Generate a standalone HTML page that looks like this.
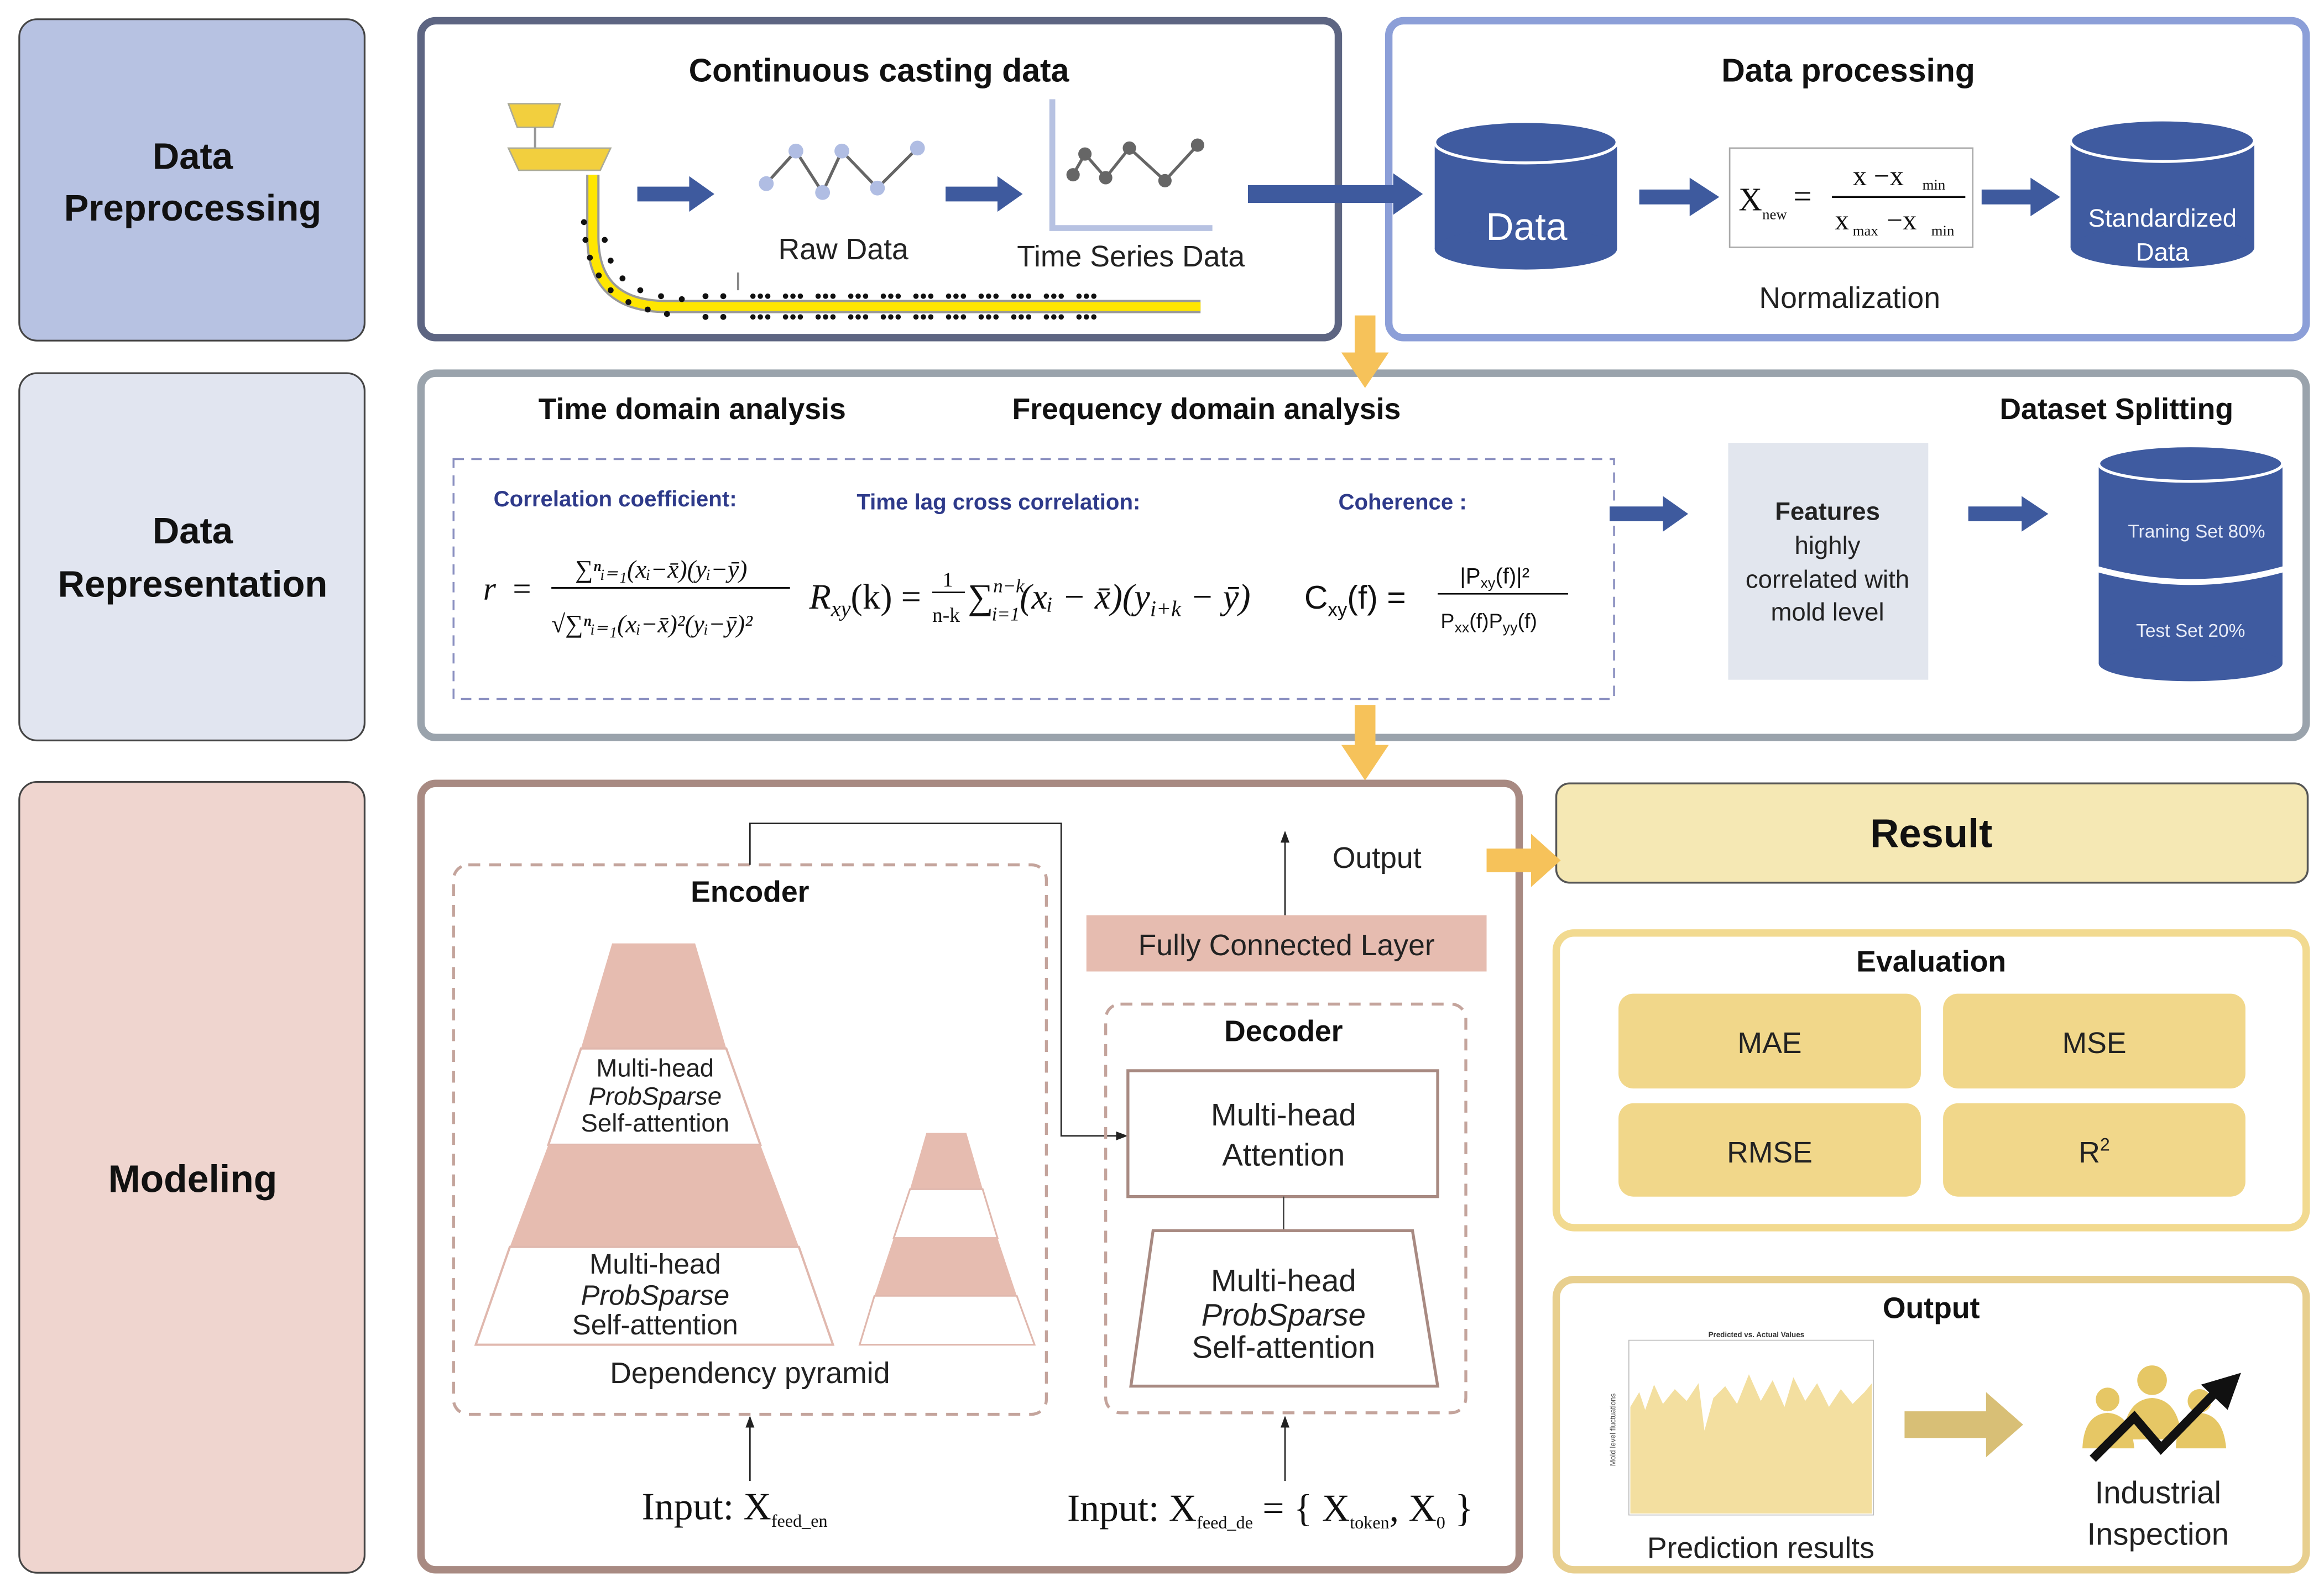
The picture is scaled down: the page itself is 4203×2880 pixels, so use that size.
<!DOCTYPE html>
<html><head><meta charset="utf-8"><style>
html,body{margin:0;padding:0;background:#fff;}
svg{display:block;}
text{font-family:"Liberation Sans",sans-serif;}
.b{font-weight:bold;}
.serif{font-family:"Liberation Serif",serif;}
</style></head><body>
<svg width="4203" height="2880" viewBox="0 0 1568 1075" preserveAspectRatio="none" xmlns="http://www.w3.org/2000/svg">
<defs>
<marker id="ah" markerWidth="8" markerHeight="8" refX="7" refY="4" orient="auto" markerUnits="userSpaceOnUse"><path d="M0,1 L8,4 L0,7 Z" fill="#222"/></marker>
</defs>
<rect width="1568" height="1075" fill="#fff"/>
<!-- left labels -->
<rect x="13" y="13" width="233" height="217" rx="12" fill="#b7c2e2" stroke="#444" stroke-width="1.2"/>
<text x="130" y="114" font-size="25" class="b" text-anchor="middle" fill="#111">Data</text>
<text x="130" y="149" font-size="25" class="b" text-anchor="middle" fill="#111">Preprocessing</text>
<rect x="13" y="252" width="233" height="248" rx="12" fill="#e1e5f0" stroke="#444" stroke-width="1.2"/>
<text x="130" y="367" font-size="25" class="b" text-anchor="middle" fill="#111">Data</text>
<text x="130" y="403" font-size="25" class="b" text-anchor="middle" fill="#111">Representation</text>
<rect x="13" y="528" width="233" height="534" rx="12" fill="#efd5cf" stroke="#444" stroke-width="1.2"/>
<text x="130" y="805" font-size="26" class="b" text-anchor="middle" fill="#111">Modeling</text>

<!-- Panel continuous casting -->
<rect x="284" y="14" width="619" height="214" rx="10" fill="#fff" stroke="#5d6582" stroke-width="5"/>
<text x="593" y="55" font-size="22" class="b" text-anchor="middle" fill="#111">Continuous casting data</text>
<polygon points="343,70 378,70 373,86 349,86" fill="#f2cf3e" stroke="#aa9"/>
<line x1="361" y1="86" x2="361" y2="100" stroke="#999" stroke-width="1.5"/>
<polygon points="343,100 412,100 405,115 350,115" fill="#f2cf3e" stroke="#aa9"/>
<path d="M400,118 L400,160 Q400,207 450,207 L810,207" fill="none" stroke="#999" stroke-width="9"/>
<path d="M400,118 L400,160 Q400,207 450,207 L810,207" fill="none" stroke="#ffe600" stroke-width="6"/>
<g fill="#111">
<circle cx="394" cy="150" r="2"/><circle cx="395" cy="162" r="2"/><circle cx="398" cy="174" r="2"/><circle cx="404" cy="186" r="2"/><circle cx="412" cy="196" r="2"/><circle cx="424" cy="204" r="2"/><circle cx="437" cy="209" r="2"/><circle cx="450" cy="212" r="2"/>
<circle cx="408" cy="162" r="2"/><circle cx="412" cy="176" r="2"/><circle cx="420" cy="188" r="2"/><circle cx="432" cy="196" r="2"/><circle cx="446" cy="200" r="2"/><circle cx="460" cy="202" r="2"/>
<circle cx="476" cy="214" r="2"/><circle cx="488" cy="214" r="2"/><circle cx="476" cy="200" r="2"/><circle cx="488" cy="200" r="2"/>
</g>
<g fill="#111">
<g id="r1"><circle cx="508" cy="200" r="1.8"/><circle cx="513" cy="200" r="1.8"/><circle cx="518" cy="200" r="1.8"/><circle cx="508" cy="214" r="1.8"/><circle cx="513" cy="214" r="1.8"/><circle cx="518" cy="214" r="1.8"/></g>
<use href="#r1" x="22"/><use href="#r1" x="44"/><use href="#r1" x="66"/><use href="#r1" x="88"/><use href="#r1" x="110"/><use href="#r1" x="132"/><use href="#r1" x="154"/><use href="#r1" x="176"/><use href="#r1" x="198"/><use href="#r1" x="220"/>
</g>
<line x1="498" y1="184" x2="498" y2="196" stroke="#888" stroke-width="1.5"/>
<polygon points="430,126 465,126 465,119 482,131 465,143 465,136 430,136" fill="#3e5a9e"/>
<polyline points="517,124 537,102 555,130 568,102 592,127 619,100" fill="none" stroke="#666" stroke-width="2"/>
<g fill="#b0bde3"><circle cx="517" cy="124" r="5"/><circle cx="537" cy="102" r="5"/><circle cx="555" cy="130" r="5"/><circle cx="568" cy="102" r="5"/><circle cx="592" cy="127" r="5"/><circle cx="619" cy="100" r="5"/></g>
<text x="569" y="175" font-size="20" text-anchor="middle" fill="#222">Raw Data</text>
<polygon points="638,126 673,126 673,119 690,131 673,143 673,136 638,136" fill="#3e5a9e"/>
<polyline points="710,67 710,154 818,154" fill="none" stroke="#b7c2e2" stroke-width="4"/>
<polyline points="724,118 732,104 746,120 762,100 786,122 808,98" fill="none" stroke="#666" stroke-width="2"/>
<g fill="#666"><circle cx="724" cy="118" r="4.5"/><circle cx="746" cy="120" r="4.5"/><circle cx="762" cy="100" r="4.5"/><circle cx="786" cy="122" r="4.5"/><circle cx="808" cy="98" r="4.5"/><circle cx="732" cy="104" r="4.5"/></g>
<text x="763" y="180" font-size="20" text-anchor="middle" fill="#222">Time Series Data</text>

<!-- Data processing -->
<rect x="937" y="14" width="619" height="214" rx="10" fill="#fff" stroke="#8c9fd8" stroke-width="5"/>
<polygon points="842,125 940,125 940,117 960,131 940,145 940,137 842,137" fill="#3e5a9e"/>
<text x="1247" y="55" font-size="22" class="b" text-anchor="middle" fill="#111">Data processing</text>
<g>
<rect x="968" y="96" width="123" height="72" fill="#3f5ba0"/>
<ellipse cx="1029.5" cy="168" rx="61.5" ry="14" fill="#3f5ba0"/>
<ellipse cx="1029.5" cy="96" rx="61.5" ry="14" fill="#3f5ba0" stroke="#fff" stroke-width="2"/>
<text x="1030" y="162" font-size="26" text-anchor="middle" fill="#fff">Data</text>
</g>
<polygon points="1106,128 1140,128 1140,120 1160,133 1140,146 1140,138 1106,138" fill="#3e5a9e"/>
<rect x="1167" y="100" width="164" height="67" fill="#fff" stroke="#aaa"/>
<text x="1173" y="142" font-size="22" class="serif" fill="#111">X</text>
<text x="1189" y="148" font-size="10" class="serif" fill="#111">new</text>
<text x="1210" y="140" font-size="22" class="serif" fill="#111">=</text>
<line x1="1236" y1="133" x2="1326" y2="133" stroke="#111" stroke-width="1.3"/>
<text x="1250" y="125" font-size="19" class="serif" fill="#111">x −x</text>
<text x="1297" y="128" font-size="10" class="serif" fill="#111">min</text>
<text x="1238" y="155" font-size="19" class="serif" fill="#111">x</text>
<text x="1250" y="159" font-size="10" class="serif" fill="#111">max</text>
<text x="1273" y="155" font-size="19" class="serif" fill="#111">−x</text>
<text x="1303" y="159" font-size="10" class="serif" fill="#111">min</text>
<text x="1248" y="208" font-size="20" text-anchor="middle" fill="#222">Normalization</text>
<polygon points="1337,128 1370,128 1370,120 1390,133 1370,146 1370,138 1337,138" fill="#3e5a9e"/>
<g>
<rect x="1397" y="95" width="124" height="72" fill="#3f5ba0"/>
<ellipse cx="1459" cy="167" rx="62" ry="14" fill="#3f5ba0"/>
<ellipse cx="1459" cy="95" rx="62" ry="14" fill="#3f5ba0" stroke="#fff" stroke-width="2"/>
<text x="1459" y="153" font-size="17" text-anchor="middle" fill="#fff">Standardized</text>
<text x="1459" y="176" font-size="17" text-anchor="middle" fill="#fff">Data</text>
</g>

<!-- Representation panel -->
<rect x="284" y="252" width="1272" height="246" rx="10" fill="#fff" stroke="#9aa3ac" stroke-width="5"/>
<polygon points="914,213 928,213 928,238 937,238 921,262 905,238 914,238" fill="#f6c25a"/>
<text x="467" y="283" font-size="20" class="b" text-anchor="middle" fill="#111">Time domain analysis</text>
<text x="814" y="283" font-size="20" class="b" text-anchor="middle" fill="#111">Frequency domain analysis</text>
<text x="1428" y="283" font-size="20" class="b" text-anchor="middle" fill="#111">Dataset Splitting</text>
<rect x="306" y="310" width="783" height="162" fill="none" stroke="#8a8fc0" stroke-width="1.3" stroke-dasharray="7,5"/>
<text x="333" y="342" font-size="15" class="b" fill="#2e3a8a">Correlation coefficient:</text>
<text x="578" y="344" font-size="15" class="b" fill="#2e3a8a">Time lag cross correlation:</text>
<text x="903" y="344" font-size="15" class="b" fill="#2e3a8a">Coherence :</text>
<text x="326" y="405" font-size="22" class="serif" font-style="italic" fill="#111">r</text>
<text x="346" y="405" font-size="22" class="serif" fill="#111">=</text>
<text x="388" y="390" font-size="17" class="serif" font-style="italic" fill="#111">∑ⁿᵢ₌₁(xᵢ−x̄)(yᵢ−ȳ)</text>
<line x1="372" y1="397" x2="533" y2="397" stroke="#111" stroke-width="1.2"/>
<text x="372" y="427" font-size="17" class="serif" font-style="italic" fill="#111">√∑ⁿᵢ₌₁(xᵢ−x̄)²(yᵢ−ȳ)²</text>
<text x="546" y="411" font-size="24" class="serif" font-style="italic" fill="#111">R<tspan font-size="15" dy="5">xy</tspan><tspan dy="-5" font-style="normal">(k) =</tspan></text>
<text x="636" y="396" font-size="14" class="serif" fill="#111">1</text>
<line x1="629" y1="400" x2="651" y2="400" stroke="#111"/>
<text x="629" y="420" font-size="14" class="serif" fill="#111">n-k</text>
<text x="653" y="411" font-size="24" class="serif" font-style="italic" fill="#111">∑<tspan font-size="13" dy="-11">n−k</tspan><tspan font-size="13" dx="-22" dy="19">i=1</tspan><tspan dy="-8">(xᵢ − x̄)(y</tspan><tspan font-size="15" dy="5">i+k</tspan><tspan dy="-5"> − ȳ)</tspan></text>
<text x="880" y="411" font-size="22" fill="#111">C<tspan font-size="13" dy="5">xy</tspan><tspan dy="-5">(f) =</tspan></text>
<text x="985" y="394" font-size="15" fill="#111">|P<tspan font-size="10" dy="3">xy</tspan><tspan dy="-3">(f)|²</tspan></text>
<line x1="970" y1="401" x2="1058" y2="401" stroke="#111"/>
<text x="972" y="424" font-size="14" fill="#111">P<tspan font-size="10" dy="3">xx</tspan><tspan dy="-3">(f)P</tspan><tspan font-size="10" dy="3">yy</tspan><tspan dy="-3">(f)</tspan></text>
<polygon points="1086,342 1122,342 1122,335 1139,347 1122,359 1122,352 1086,352" fill="#3e5a9e"/>
<rect x="1166" y="299" width="135" height="160" fill="#e2e6ee"/>
<text x="1233" y="351" font-size="17" class="b" text-anchor="middle" fill="#222">Features</text>
<text x="1233" y="374" font-size="17" text-anchor="middle" fill="#222">highly</text>
<text x="1233" y="397" font-size="17" text-anchor="middle" fill="#222">correlated with</text>
<text x="1233" y="419" font-size="17" text-anchor="middle" fill="#222">mold level</text>
<polygon points="1328,342 1364,342 1364,335 1382,347 1364,359 1364,352 1328,352" fill="#3e5a9e"/>
<g>
<rect x="1416" y="313" width="124" height="135" fill="#3f5ba0"/>
<ellipse cx="1478" cy="448" rx="62" ry="12" fill="#3f5ba0"/>
<path d="M1414,384 Q1478,402 1542,384" fill="none" stroke="#fff" stroke-width="4"/>
<ellipse cx="1478" cy="313" rx="62" ry="12" fill="#3f5ba0" stroke="#fff" stroke-width="2"/>
<text x="1482" y="363" font-size="12.5" text-anchor="middle" fill="#e8ecf8">Traning Set 80%</text>
<text x="1478" y="430" font-size="12.5" text-anchor="middle" fill="#e8ecf8">Test Set 20%</text>
</g>

<!-- Modeling panel -->
<rect x="284" y="529" width="741" height="531" rx="10" fill="#fff" stroke="#a88a82" stroke-width="5"/>
<polygon points="914,476 928,476 928,503 937,503 921,527 905,503 914,503" fill="#f6c25a"/>
<rect x="306" y="584" width="400" height="371" rx="10" fill="none" stroke="#c4a49c" stroke-width="2" stroke-dasharray="8,6"/>
<text x="506" y="609" font-size="20" class="b" text-anchor="middle" fill="#111">Encoder</text>
<polyline points="506,584 506,556 716,556 716,767 760,767" fill="none" stroke="#222" stroke-width="1" marker-end="url(#ah)"/>
<polygon points="413,637 469,637 490,708 392,708" fill="#e6bcb0"/>
<polygon points="392,708 490,708 513,773 370,773" fill="#fff" stroke="#e0b8ae" stroke-width="1.5"/>
<polygon points="370,773 513,773 539,842 344,842" fill="#e6bcb0"/>
<polygon points="344,842 539,842 562,908 321,908" fill="#fff" stroke="#e0b8ae" stroke-width="1.5"/>
<text x="442" y="727" font-size="17" text-anchor="middle" fill="#222">Multi-head</text>
<text x="442" y="746" font-size="17" font-style="italic" text-anchor="middle" fill="#222">ProbSparse</text>
<text x="442" y="764" font-size="17" text-anchor="middle" fill="#222">Self-attention</text>
<text x="442" y="860" font-size="19" text-anchor="middle" fill="#222">Multi-head</text>
<text x="442" y="881" font-size="19" font-style="italic" text-anchor="middle" fill="#222">ProbSparse</text>
<text x="442" y="901" font-size="19" text-anchor="middle" fill="#222">Self-attention</text>
<polygon points="625,765 652,765 663,803 614,803" fill="#e6bcb0"/>
<polygon points="614,803 663,803 673,836 603,836" fill="#fff" stroke="#e0b8ae" stroke-width="1.2"/>
<polygon points="603,836 673,836 686,875 590,875" fill="#e6bcb0"/>
<polygon points="590,875 686,875 698,908 580,908" fill="#fff" stroke="#e0b8ae" stroke-width="1.2"/>
<text x="506" y="934" font-size="20" text-anchor="middle" fill="#222">Dependency pyramid</text>
<line x1="506" y1="1000" x2="506" y2="957" stroke="#222" stroke-width="1" marker-end="url(#ah)"/>
<text x="433" y="1026" font-size="26" class="serif" fill="#111">Input: X<tspan font-size="12" dy="5">feed_en</tspan></text>
<rect x="746" y="678" width="243" height="276" rx="10" fill="none" stroke="#c4a49c" stroke-width="2" stroke-dasharray="8,6"/>
<text x="866" y="703" font-size="20" class="b" text-anchor="middle" fill="#111">Decoder</text>
<rect x="733" y="618" width="270" height="38" fill="#e6bcb0"/>
<text x="868" y="645" font-size="20" text-anchor="middle" fill="#222">Fully Connected Layer</text>
<line x1="867" y1="618" x2="867" y2="562" stroke="#222" stroke-width="1" marker-end="url(#ah)"/>
<text x="929" y="586" font-size="20" text-anchor="middle" fill="#222">Output</text>
<rect x="761" y="723" width="209" height="85" fill="#fff" stroke="#a88a82" stroke-width="2"/>
<text x="866" y="760" font-size="21" text-anchor="middle" fill="#222">Multi-head</text>
<text x="866" y="787" font-size="21" text-anchor="middle" fill="#222">Attention</text>
<line x1="866" y1="808" x2="866" y2="831" stroke="#444" stroke-width="1"/>
<polygon points="778,831 953,831 970,936 763,936" fill="#fff" stroke="#a88a82" stroke-width="2"/>
<text x="866" y="872" font-size="21" text-anchor="middle" fill="#222">Multi-head</text>
<text x="866" y="895" font-size="21" font-style="italic" text-anchor="middle" fill="#222">ProbSparse</text>
<text x="866" y="917" font-size="21" text-anchor="middle" fill="#222">Self-attention</text>
<line x1="867" y1="1000" x2="867" y2="957" stroke="#222" stroke-width="1" marker-end="url(#ah)"/>
<text x="720" y="1027" font-size="26" class="serif" fill="#111">Input: X<tspan font-size="12" dy="5">feed_de</tspan><tspan dy="-5"> = { X</tspan><tspan font-size="12" dy="5">token</tspan><tspan dy="-5">, X</tspan><tspan font-size="12" dy="5">0</tspan><tspan dy="-5"> }</tspan></text>

<!-- Result -->
<rect x="1050" y="529" width="507" height="67" rx="9" fill="#f5e8b4" stroke="#555" stroke-width="1.3"/>
<polygon points="1003,573 1033,573 1033,563 1053,581 1033,599 1033,589 1003,589" fill="#f6c25a"/>
<text x="1303" y="572" font-size="27" class="b" text-anchor="middle" fill="#111">Result</text>
<rect x="1050" y="630" width="506" height="199" rx="12" fill="#fff" stroke="#f2da90" stroke-width="5"/>
<text x="1303" y="656" font-size="20" class="b" text-anchor="middle" fill="#111">Evaluation</text>
<rect x="1092" y="671" width="204" height="64" rx="10" fill="#f1d78a"/>
<rect x="1311" y="671" width="204" height="64" rx="10" fill="#f1d78a"/>
<rect x="1092" y="745" width="204" height="63" rx="10" fill="#f1d78a"/>
<rect x="1311" y="745" width="204" height="63" rx="10" fill="#f1d78a"/>
<text x="1194" y="711" font-size="20" text-anchor="middle" fill="#222">MAE</text>
<text x="1413" y="711" font-size="20" text-anchor="middle" fill="#222">MSE</text>
<text x="1194" y="785" font-size="20" text-anchor="middle" fill="#222">RMSE</text>
<text x="1413" y="785" font-size="20" text-anchor="middle" fill="#222">R<tspan font-size="12" dy="-8">2</tspan></text>
<rect x="1050" y="864" width="506" height="196" rx="12" fill="#fff" stroke="#e8cf8e" stroke-width="5"/>
<text x="1303" y="890" font-size="20" class="b" text-anchor="middle" fill="#111">Output</text>
<text x="1185" y="903" font-size="5" class="b" text-anchor="middle" fill="#333">Predicted vs. Actual Values</text>
<rect x="1099" y="905" width="165" height="118" fill="#fff" stroke="#bbb" stroke-width="0.6"/>
<path d="M1100,1022 L1100,950 L1106,940 L1110,952 L1116,935 L1122,948 L1130,938 L1138,946 L1146,934 L1150,966 L1156,944 L1164,936 L1172,948 L1180,928 L1188,946 L1196,932 L1204,950 L1210,930 L1218,946 L1226,934 L1234,950 L1242,938 L1250,948 L1258,940 L1263,934 L1263,1022 Z" fill="#f3dfa0"/>
<text x="1090" y="990" font-size="5" fill="#555" transform="rotate(-90 1090 990)">Mold level fluctuations</text>
<text x="1188" y="1052" font-size="20" text-anchor="middle" fill="#222">Prediction results</text>
<polygon points="1285,953 1340,953 1340,940 1365,962 1340,984 1340,971 1285,971" fill="#d8bf76"/>
<g fill="#e6c765">
<circle cx="1452" cy="932" r="10"/><path d="M1432,972 Q1434,945 1452,944 Q1470,945 1472,972 Z"/>
<circle cx="1422" cy="945" r="8"/><path d="M1405,978 Q1406,955 1422,954 Q1438,955 1440,978 Z"/>
<circle cx="1484" cy="946" r="8"/><path d="M1468,978 Q1469,955 1484,954 Q1500,955 1502,978 Z"/>
</g>
<polyline points="1412,985 1440,957 1458,978 1495,940" fill="none" stroke="#111" stroke-width="6"/>
<polygon points="1485,935 1512,927 1503,952" fill="#111"/>
<text x="1456" y="1015" font-size="21" text-anchor="middle" fill="#222">Industrial</text>
<text x="1456" y="1043" font-size="21" text-anchor="middle" fill="#222">Inspection</text>
</svg>
</body></html>
